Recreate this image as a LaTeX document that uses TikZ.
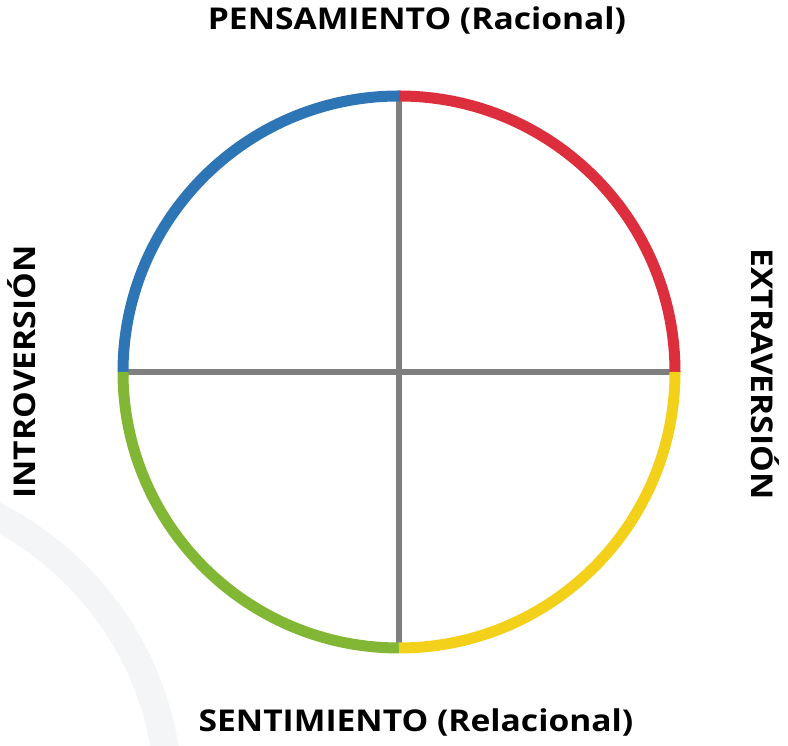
\documentclass[tikz,border=0pt]{standalone}
\usepackage{fontspec}
\setmainfont[FakeStretch=1.12]{Open Sans}
\definecolor{cblue}{HTML}{2E75B6}
\definecolor{cred}{HTML}{DC2E3C}
\definecolor{cyellow}{HTML}{F3D11A}
\definecolor{cgreen}{HTML}{82B736}
\definecolor{cgray}{HTML}{7F7F7F}
\definecolor{cbg}{HTML}{F4F5F7}
\tikzset{
  quarter/.style={line width=11pt, line cap=butt},
  axis/.style={draw=cgray, line width=6pt},
  label/.style={font=\fontsize{30}{36}\selectfont\bfseries, inner sep=0pt}
}
\begin{document}
\begin{tikzpicture}[x=1pt,y=1pt]
\useasboundingbox (0,0) rectangle (788,746);
\begin{scope}
\clip (0,0) rectangle (788,746);
\draw[cbg, line width=28pt] (-150,-54) circle (319pt);
\end{scope}
\coordinate (C) at (399,374);
\coordinate (top) at (399,653);
\coordinate (bot) at (399,99);
\coordinate (lft) at (127,374);
\coordinate (rgt) at (671,374);
\draw[axis] (top) -- (bot);
\draw[axis] (lft) -- (rgt);
\draw[quarter, cred] ([shift={(0:276pt)}]C) arc[start angle=0, end angle=90, radius=276pt];
\draw[quarter, cblue] ([shift={(90:276pt)}]C) arc[start angle=90, end angle=180, radius=276pt];
\draw[quarter, cgreen] ([shift={(180:276pt)}]C) arc[start angle=180, end angle=270, radius=276pt];
\draw[quarter, cyellow] ([shift={(270:276pt)}]C) arc[start angle=270, end angle=360, radius=276pt];
\node[label] (pens) at (417,726) {PENSAMIENTO (Racional)};
\node[label] (sent) at (416,24) {SENTIMIENTO (Relacional)};
\node[label, rotate=90] (intro) at (22,374) {INTROVERSIÓN};
\node[label, rotate=-90] (extra) at (765,372) {EXTRAVERSIÓN};
\end{tikzpicture}
\end{document}
